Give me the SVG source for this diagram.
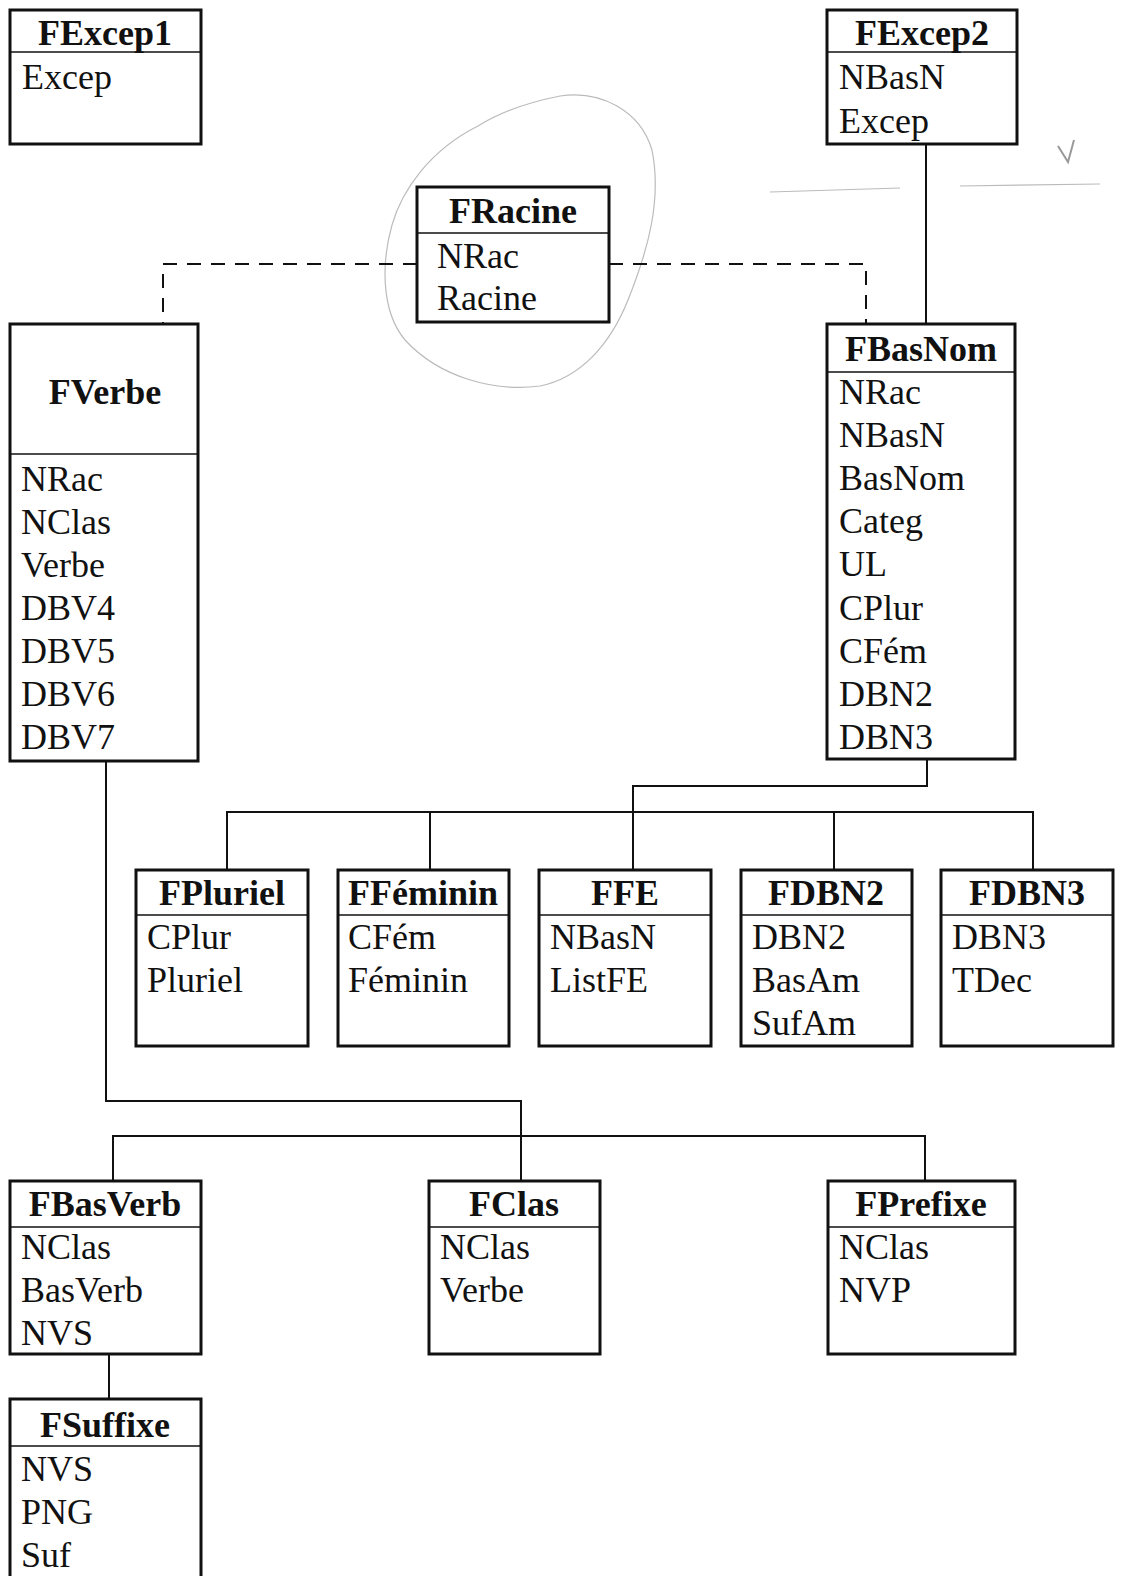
<svg xmlns="http://www.w3.org/2000/svg" width="1122" height="1576" viewBox="0 0 1122 1576">
<style>
.box{fill:#fff;stroke:#111;stroke-width:3}
.sep{stroke:#111;stroke-width:1.6}
.t{font-family:"Liberation Serif","Times New Roman",serif;font-size:36px;font-weight:bold;fill:#111;text-anchor:middle}
.f{font-family:"Liberation Serif","Times New Roman",serif;font-size:36px;fill:#111}
.c{fill:none;stroke:#111;stroke-width:2}
.d{fill:none;stroke:#111;stroke-width:2;stroke-dasharray:14 10}
.pen{fill:none;stroke:#bbb;stroke-width:1.2}
</style>
<rect width="1122" height="1576" fill="#fff"/>
<g id="annotations">
<path class="pen" d="M478,126 C500,112 530,102 560,96 C600,90 640,110 652,150 C662,200 648,250 628,300 C610,345 580,378 540,386 C495,392 440,378 405,340 C380,310 382,260 392,225 C402,190 430,150 478,126"/>
<path class="pen" d="M770,192 L900,188 M960,186 L1100,184"/>
<path d="M1058,146 L1068,162 L1074,140" fill="none" stroke="#999" stroke-width="2"/>
</g>
<g id="connectors">
<path class="d" d="M417,264 H163 V324"/>
<path class="d" d="M609,264 H866 V324"/>
<path class="c" d="M926,144 V324"/>
<path class="c" d="M927,759 V786 H633 V870"/>
<path class="c" d="M227,870 V812 H1033 V870 M430,812 V870 M834,812 V870"/>
<path class="c" d="M106,761 V1101 H521 V1181"/>
<path class="c" d="M113,1181 V1136 H925 V1181"/>
<path class="c" d="M109,1354 V1399"/>
</g>
<g id="FExcep1">
<rect class="box" x="10" y="10" width="191" height="134"/>
<line class="sep" x1="10" y1="52" x2="201" y2="52"/>
<text class="t" x="105" y="45">FExcep1</text>
<text class="f" x="22" y="89">Excep</text>
</g>
<g id="FExcep2">
<rect class="box" x="827" y="10" width="190" height="134"/>
<line class="sep" x1="827" y1="52" x2="1017" y2="52"/>
<text class="t" x="922" y="45">FExcep2</text>
<text class="f" x="839" y="89">NBasN</text>
<text class="f" x="839" y="133">Excep</text>
</g>
<g id="FRacine">
<rect class="box" x="417" y="187" width="192" height="135"/>
<line class="sep" x1="417" y1="233" x2="609" y2="233"/>
<text class="t" x="513" y="223">FRacine</text>
<text class="f" x="437" y="268">NRac</text>
<text class="f" x="437" y="310">Racine</text>
</g>
<g id="FVerbe">
<rect class="box" x="10" y="324" width="188" height="437"/>
<line class="sep" x1="10" y1="454" x2="198" y2="454"/>
<text class="t" x="105" y="404">FVerbe</text>
<text class="f" x="21" y="491">NRac</text>
<text class="f" x="21" y="534">NClas</text>
<text class="f" x="21" y="577">Verbe</text>
<text class="f" x="21" y="620">DBV4</text>
<text class="f" x="21" y="663">DBV5</text>
<text class="f" x="21" y="706">DBV6</text>
<text class="f" x="21" y="749">DBV7</text>
</g>
<g id="FBasNom">
<rect class="box" x="827" y="324" width="188" height="435"/>
<line class="sep" x1="827" y1="372" x2="1015" y2="372"/>
<text class="t" x="921" y="361">FBasNom</text>
<text class="f" x="839" y="404">NRac</text>
<text class="f" x="839" y="447">NBasN</text>
<text class="f" x="839" y="490">BasNom</text>
<text class="f" x="839" y="533">Categ</text>
<text class="f" x="839" y="576">UL</text>
<text class="f" x="839" y="620">CPlur</text>
<text class="f" x="839" y="663">CFém</text>
<text class="f" x="839" y="706">DBN2</text>
<text class="f" x="839" y="749">DBN3</text>
</g>
<g id="FPluriel">
<rect class="box" x="136" y="870" width="172" height="176"/>
<line class="sep" x1="136" y1="915" x2="308" y2="915"/>
<text class="t" x="222" y="905">FPluriel</text>
<text class="f" x="147" y="949">CPlur</text>
<text class="f" x="147" y="992">Pluriel</text>
</g>
<g id="FFeminin">
<rect class="box" x="338" y="870" width="171" height="176"/>
<line class="sep" x1="338" y1="915" x2="509" y2="915"/>
<text class="t" x="423" y="905">FFéminin</text>
<text class="f" x="348" y="949">CFém</text>
<text class="f" x="348" y="992">Féminin</text>
</g>
<g id="FFE">
<rect class="box" x="539" y="870" width="172" height="176"/>
<line class="sep" x1="539" y1="915" x2="711" y2="915"/>
<text class="t" x="625" y="905">FFE</text>
<text class="f" x="550" y="949">NBasN</text>
<text class="f" x="550" y="992">ListFE</text>
</g>
<g id="FDBN2">
<rect class="box" x="741" y="870" width="171" height="176"/>
<line class="sep" x1="741" y1="915" x2="912" y2="915"/>
<text class="t" x="826" y="905">FDBN2</text>
<text class="f" x="752" y="949">DBN2</text>
<text class="f" x="752" y="992">BasAm</text>
<text class="f" x="752" y="1035">SufAm</text>
</g>
<g id="FDBN3">
<rect class="box" x="941" y="870" width="172" height="176"/>
<line class="sep" x1="941" y1="915" x2="1113" y2="915"/>
<text class="t" x="1027" y="905">FDBN3</text>
<text class="f" x="952" y="949">DBN3</text>
<text class="f" x="952" y="992">TDec</text>
</g>
<g id="FBasVerb">
<rect class="box" x="10" y="1181" width="191" height="173"/>
<line class="sep" x1="10" y1="1227" x2="201" y2="1227"/>
<text class="t" x="105" y="1216">FBasVerb</text>
<text class="f" x="21" y="1259">NClas</text>
<text class="f" x="21" y="1302">BasVerb</text>
<text class="f" x="21" y="1345">NVS</text>
</g>
<g id="FClas">
<rect class="box" x="429" y="1181" width="171" height="173"/>
<line class="sep" x1="429" y1="1227" x2="600" y2="1227"/>
<text class="t" x="514" y="1216">FClas</text>
<text class="f" x="440" y="1259">NClas</text>
<text class="f" x="440" y="1302">Verbe</text>
</g>
<g id="FPrefixe">
<rect class="box" x="828" y="1181" width="187" height="173"/>
<line class="sep" x1="828" y1="1227" x2="1015" y2="1227"/>
<text class="t" x="921" y="1216">FPrefixe</text>
<text class="f" x="839" y="1259">NClas</text>
<text class="f" x="839" y="1302">NVP</text>
</g>
<g id="FSuffixe">
<rect class="box" x="10" y="1399" width="191" height="190"/>
<line class="sep" x1="10" y1="1446" x2="201" y2="1446"/>
<text class="t" x="105" y="1437">FSuffixe</text>
<text class="f" x="21" y="1481">NVS</text>
<text class="f" x="21" y="1524">PNG</text>
<text class="f" x="21" y="1567">Suf</text>
</g>
</svg>
